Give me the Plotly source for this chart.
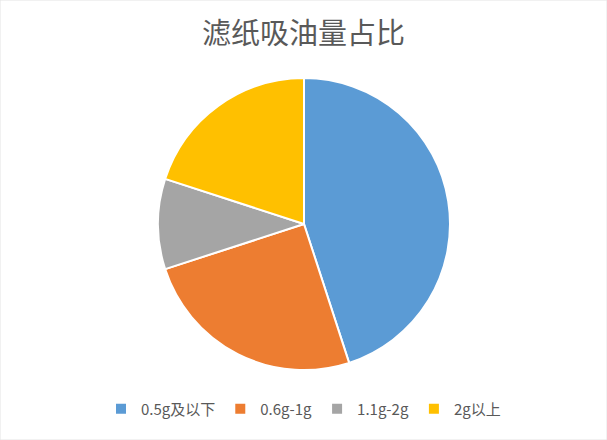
import plotly.graph_objects as go

labels = ['0.5g及以下', '0.6g-1g', '1.1g-2g', '2g以上']
values = [45, 25, 10, 20]
colors = ['#5B9BD5', '#ED7D31', '#A5A5A5', '#FFC000']

W, H = 607, 440
cx, cy, r = 304, 224, 146

fig = go.Figure(go.Pie(
    labels=labels,
    values=values,
    sort=False,
    direction='clockwise',
    rotation=0,
    textinfo='none',
    hoverinfo='label+percent',
    marker=dict(colors=colors, line=dict(color='white', width=2)),
    domain=dict(x=[(cx - r) / W, (cx + r) / W], y=[1 - (cy + r) / H, 1 - (cy - r) / H]),
))

fig.update_layout(
    width=W, height=H,
    margin=dict(l=0, r=0, t=0, b=0),
    paper_bgcolor='white',
    font=dict(family='Noto Sans CJK SC, sans-serif', color='#595959'),
    title=dict(text='滤纸吸油量占比', x=0.5, xanchor='center', y=1 - 34 / H, yanchor='middle',
               font=dict(size=29, color='#595959')),
    legend=dict(orientation='h', x=0.5, xanchor='center', y=1 - 409 / H, yanchor='middle',
                font=dict(size=15, color='#595959'), itemwidth=30, traceorder='normal'),
    shapes=[dict(type='rect', xref='paper', yref='paper', x0=0, y0=0, x1=1, y1=1,
                 line=dict(color='#E4E4E4', width=1))],
)

fig.write_html("out.html", config={'displayModeBar': False},
               post_script="document.body.style.margin='0';")
